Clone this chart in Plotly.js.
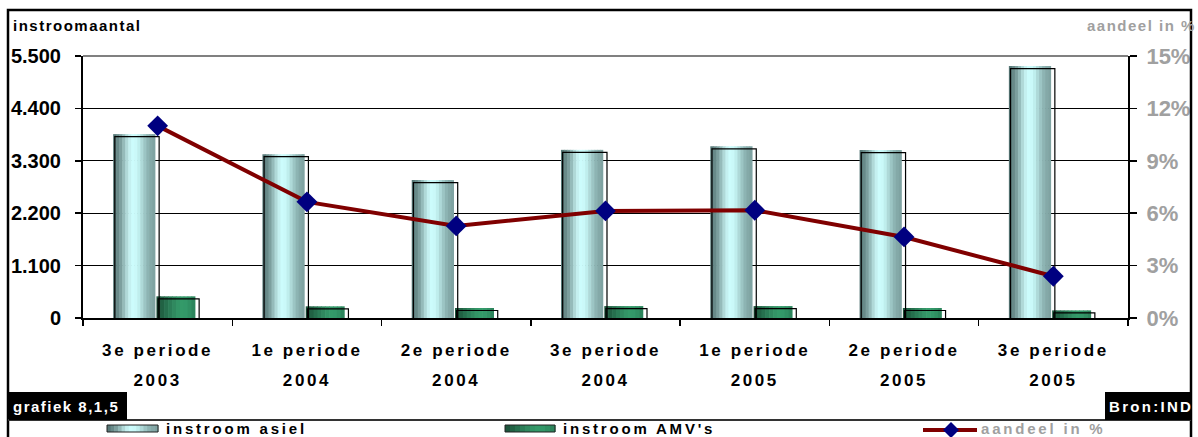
<!DOCTYPE html>
<html>
<head>
<meta charset="utf-8">
<script src="https://cdn.plot.ly/plotly-3.0.1.min.js"></script>
<style>
  html, body { margin: 0; padding: 0; background: #fff; }
  #chart { width: 1198px; height: 437px; }
  .xtick text, .x2tick text { letter-spacing: 2.6px; }
  .annotation[data-index="0"] .annotation-text,
  .annotation[data-index="1"] .annotation-text,
  .annotation[data-index="2"] .annotation-text { letter-spacing: 1.5px; }
  .annotation[data-index="3"] .annotation-text { letter-spacing: 2.3px; }
  .annotation[data-index="4"] .annotation-text,
  .annotation[data-index="5"] .annotation-text,
  .annotation[data-index="6"] .annotation-text { letter-spacing: 2.8px; }
</style>
</head>
<body>
<div id="chart"></div>
<script>
// ---- data ----
const periods = ['3e periode', '1e periode', '2e periode', '3e periode', '1e periode', '2e periode', '3e periode'];
const years   = ['2003', '2004', '2004', '2004', '2005', '2005', '2005'];
const instroomAsiel = [3860, 3440, 2895, 3530, 3605, 3525, 5290];
const instroomAMV   = [455, 245, 210, 250, 250, 210, 160];
const aandeelPct    = [11.0, 6.65, 5.27, 6.13, 6.17, 4.64, 2.39];
const yTicks   = [0, 1100, 2200, 3300, 4400, 5500];
const pctTicks = [0, 3, 6, 9, 12, 15];
const pctTickText = ['0%', '3%', '6%', '9%', '12%', '15%'];
const seriesNames = ['instroom asiel', "instroom AMV's", 'aandeel in %'];
const leftTitle = 'instroomaantal';
const rightTitle = 'aandeel in %';
const chartId = 'grafiek 8,1,5';
const source = 'Bron:IND';

// ---- styling ----
const FONT = 'Liberation Sans, Arial, Helvetica, sans-serif';
const GRAY = '#a0a0a0';
const asielColors = ['#587978','#688a89','#7c9f9e','#95bbba','#b0d9d8','#c4f0f0','#ccfcfc',
                     '#caf9f9','#bfeeed','#aed9d8','#9cc5c4','#8db4b3','#84a9a8','#7fa3a2'];
const amvColors = ['#1d553c','#216244','#26704e','#2b7d57','#30895f','#339466','#349a69',
                   '#339869','#309063','#2c855c'];

const cats = periods.map((p, i) => p + ' ' + years[i]);
const idx = periods.map((p, i) => i);

function strips(values, colors, start, total) {
  const n = colors.length, w = total / n;
  return colors.map((c, k) => ({
    type: 'bar', x: cats, y: values, xaxis: 'x', yaxis: 'y',
    offset: start + k * w, width: w + (k < n - 1 ? 0.004 : 0),
    marker: { color: c, line: { width: 0 } },
    showlegend: false, hoverinfo: 'skip'
  }));
}

const traces = [].concat(
  strips(instroomAsiel, asielColors, -0.298, 0.283),
  strips(instroomAMV, amvColors, -0.008, 0.261),
  [{
    type: 'bar', x: cats, y: instroomAsiel, xaxis: 'x', yaxis: 'y2',
    offset: -0.287, width: 0.297, name: seriesNames[0],
    marker: { color: 'rgba(0,0,0,0)', line: { color: '#000', width: 1.2 } },
    showlegend: false, hoverinfo: 'skip'
  }, {
    type: 'bar', x: cats, y: instroomAMV, xaxis: 'x', yaxis: 'y2',
    offset: 0.003, width: 0.275, name: seriesNames[1],
    marker: { color: 'rgba(0,0,0,0)', line: { color: '#000', width: 1.2 } },
    showlegend: false, hoverinfo: 'skip'
  }, {
    type: 'scatter', mode: 'lines+markers', x: idx, y: aandeelPct,
    xaxis: 'x2', yaxis: 'y3', name: seriesNames[2],
    line: { color: '#800000', width: 4 },
    marker: { symbol: 'diamond', size: 16, color: '#000080' },
    showlegend: false
  }]
);

// pixel helpers relative to plot-area bottom-left (83, 318)
const L = 83, B = 318;
function px(x) { return x - L; }
function py(y) { return B - y; }
function pxRect(x0, y0, x1, y1, extra) {
  return Object.assign({
    type: 'rect', xref: 'paper', yref: 'paper', xsizemode: 'pixel', ysizemode: 'pixel',
    xanchor: 0, yanchor: 0, x0: px(x0), x1: px(x1), y0: py(y0), y1: py(y1), layer: 'above'
  }, extra);
}

const shapes = [];
// outer frame
shapes.push(pxRect(8, 10, 1191, 450, { line: { color: '#000', width: 2.5 }, fillcolor: 'rgba(0,0,0,0)' }));
// separator above legend
shapes.push({ type: 'line', xref: 'paper', yref: 'paper', xsizemode: 'pixel', ysizemode: 'pixel',
  xanchor: 0, yanchor: 0, x0: px(8), x1: px(1191), y0: py(420), y1: py(420),
  line: { color: '#333', width: 2 }, layer: 'above' });
// black label boxes
shapes.push(pxRect(9, 392, 127, 420, { line: { width: 0 }, fillcolor: '#000' }));
shapes.push(pxRect(1105, 392, 1191, 420, { line: { width: 0 }, fillcolor: '#000' }));
// gray top gridline
shapes.push({ type: 'line', xref: 'paper', yref: 'paper', x0: 0, x1: 1, y0: 1, y1: 1,
  line: { color: '#808080', width: 2 }, layer: 'above' });
// legend swatches
function swatch(x0, x1, y0, y1, colors) {
  const n = colors.length, w = (x1 - x0) / n;
  colors.forEach((c, k) => shapes.push(pxRect(x0 + k * w, y0, x0 + (k + 1) * w + 0.5, y1,
    { line: { width: 0 }, fillcolor: c })));
  shapes.push(pxRect(x0, y0, x1, y1, { line: { color: '#222', width: 1 }, fillcolor: 'rgba(0,0,0,0)' }));
}
swatch(107, 158, 425, 432, asielColors);
swatch(505, 555, 425, 432, amvColors);
shapes.push({ type: 'line', xref: 'paper', yref: 'paper', xsizemode: 'pixel', ysizemode: 'pixel',
  xanchor: 0, yanchor: 0, x0: px(923), x1: px(977), y0: py(430), y1: py(430),
  line: { color: '#800000', width: 4 }, layer: 'above' });
shapes.push({ type: 'path', xref: 'paper', yref: 'paper', xsizemode: 'pixel', ysizemode: 'pixel',
  xanchor: 0, yanchor: 0,
  path: `M${px(951)},${py(422)} L${px(959)},${py(430)} L${px(951)},${py(438)} L${px(943)},${py(430)} Z`,
  fillcolor: '#000080', line: { width: 0 }, layer: 'above' });

function ann(text, xLeft, yMid, color, size) {
  return { text: text, xref: 'paper', yref: 'paper', x: 0, y: 0,
    xshift: px(xLeft), yshift: py(yMid), xanchor: 'left', yanchor: 'middle', align: 'left',
    showarrow: false, borderpad: 0,
    font: { family: FONT, size: size, color: color, weight: 'bold' } };
}
const annotations = [
  ann(leftTitle, 12, 25, '#000', 15),
  ann(rightTitle, 1086, 25, GRAY, 15),
  ann(chartId, 12, 406, '#fff', 15),
  ann(source, 1108, 406, '#fff', 15),
  ann(seriesNames[0], 165, 428.5, '#000', 15),
  ann(seriesNames[1], 562, 428.5, '#000', 15),
  ann(seriesNames[2], 980, 428.5, GRAY, 15)
];

const layout = {
  width: 1198, height: 437,
  margin: { l: 83, r: 70, t: 56, b: 119, pad: 0 },
  paper_bgcolor: '#fff', plot_bgcolor: '#fff',
  barmode: 'overlay', showlegend: false,
  separators: ',.',
  font: { family: FONT, color: '#000' },
  xaxis: {
    type: 'category', categoryorder: 'array', categoryarray: cats,
    tickmode: 'array', tickvals: cats, ticktext: periods,
    tickson: 'boundaries', ticks: 'outside', ticklen: 6, tickwidth: 1.5, tickcolor: '#000',
    showline: true, linecolor: '#000', linewidth: 2, showgrid: false, zeroline: false,
    ticklabelstandoff: 16,
    tickfont: { family: FONT, size: 17, color: '#000', weight: 'bold' },
    fixedrange: true
  },
  xaxis2: {
    overlaying: 'x', anchor: 'y', side: 'bottom', type: 'linear',
    range: [-0.5, periods.length - 0.5],
    tickmode: 'array', tickvals: idx, ticktext: years,
    ticks: '', showline: false, showgrid: false, zeroline: false,
    ticklabelstandoff: 50,
    tickfont: { family: FONT, size: 17, color: '#000', weight: 'bold' },
    fixedrange: true
  },
  yaxis: {
    range: [0, 5500], tickmode: 'array', tickvals: yTicks, tickformat: ',d',
    ticks: 'outside', ticklen: 6, tickwidth: 1.5, tickcolor: '#000',
    showline: true, linecolor: '#000', linewidth: 2,
    showgrid: true, gridcolor: '#000', gridwidth: 1.2, zeroline: false,
    ticklabelstandoff: 10,
    tickfont: { family: FONT, size: 20, color: '#000', weight: 'bold' },
    fixedrange: true
  },
  yaxis2: {
    overlaying: 'y', anchor: 'x', range: [53, 5553], visible: false, fixedrange: true
  },
  yaxis3: {
    overlaying: 'y', anchor: 'x2', side: 'right', range: [0, 15],
    tickmode: 'array', tickvals: pctTicks, ticktext: pctTickText,
    ticks: 'outside', ticklen: 7, tickwidth: 1.5, tickcolor: '#000',
    showline: true, linecolor: '#000', linewidth: 2,
    showgrid: false, zeroline: false, ticklabelstandoff: 5,
    tickfont: { family: FONT, size: 22, color: GRAY, weight: 'bold' },
    fixedrange: true
  },
  shapes: shapes,
  annotations: annotations
};

Plotly.newPlot('chart', traces, layout, { displayModeBar: false, staticPlot: true });
</script>
</body>
</html>
